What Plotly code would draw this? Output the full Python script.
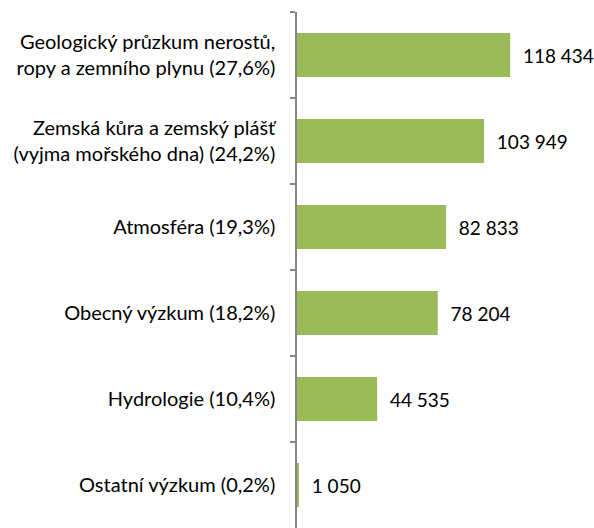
import plotly.graph_objects as go

categories = [
    "Geologický průzkum nerostů,<br>ropy a zemního plynu (27,6%)",
    "Zemská kůra a zemský plášť<br>(vyjma mořského dna) (24,2%)",
    "Atmosféra (19,3%)",
    "Obecný výzkum (18,2%)",
    "Hydrologie (10,4%)",
    "Ostatní výzkum (0,2%)",
]
values = [118434, 103949, 82833, 78204, 44535, 1050]

fig = go.Figure(go.Bar(
    x=values, y=categories, orientation="h",
    marker=dict(color="#9BBB59", line=dict(width=0)),
    width=0.51,
    texttemplate="\u00a0\u00a0%{x:,}", textposition="outside",
    textfont=dict(family="Lato", size=19, color="#000000"),
    cliponaxis=False,
))
fig.update_layout(
    width=594, height=528,
    margin=dict(l=297, r=45, t=12, b=0),
    paper_bgcolor="white", plot_bgcolor="white",
    separators=", ",
    showlegend=False,
    font=dict(family="Lato", size=20, color="#000000"),
    xaxis=dict(range=[0, 140000], visible=False, showgrid=False, automargin=False),
    yaxis=dict(autorange="reversed", type="category", showline=True, linecolor="#868686",
               linewidth=1.5, ticks="outside", tickson="boundaries", ticklen=5,
               tickcolor="#868686", tickwidth=1.5, showgrid=False, ticklabelstandoff=16,
               automargin=False,
               tickfont=dict(family="Lato", size=20, color="#000000")),
)
fig.write_html("out.html", config={"displayModeBar": False},
               post_script="document.body.style.margin='0';document.body.style.overflow='hidden';")
